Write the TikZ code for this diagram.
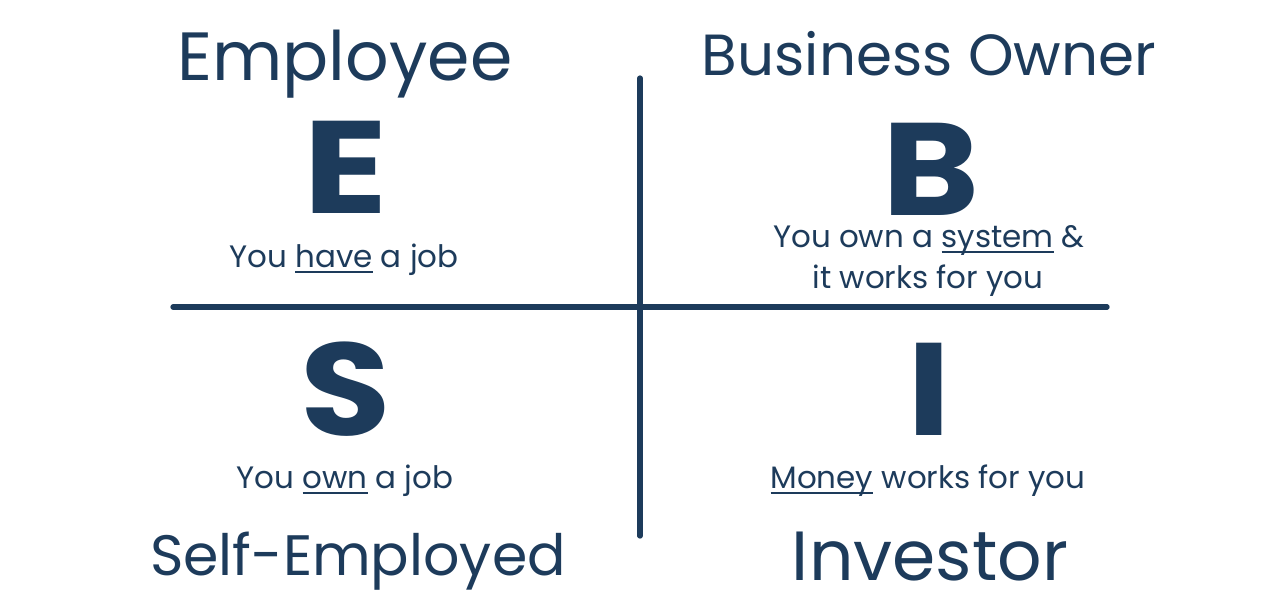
\documentclass[tikz,border=0pt]{standalone}
\usepackage{fontspec}
\setmainfont{Poppins}
\usepackage{tikz}
\definecolor{navy}{HTML}{1D3B5B}
\newcommand{\ul}[1]{\underline{\smash{#1}}}
\newcommand{\fs}[1]{\fontsize{#1}{#1}\selectfont}

\begin{document}
\begin{tikzpicture}[x=0.01cm,y=-0.01cm,
    title/.style={anchor=base,text=navy,inner sep=0pt},
    letter/.style={anchor=base,text=navy,inner sep=0pt,xscale=1.12,font=\fs{37.4}\bfseries},
    note/.style={anchor=base,text=navy,inner sep=0pt,font=\fs{8.8}},
    axis/.style={navy,line width=1.5pt,line cap=round}]
	\useasboundingbox (0,0) rectangle (1280,608);
	
	% Draw the axes
	\coordinate (top) at (640,78);
	\coordinate (bottom) at (640,536);
	\coordinate (left) at (173,307);
	\coordinate (right) at (1107,307);
	\draw[axis] (top) -- (bottom);
	\draw[axis] (left) -- (right);
	
	% Quadrant titles
	\node[title,font=\fs{19.4}] (employee) at (345,80) {Employee};
	\node[title,font=\fs{16.5}] (owner) at (929,75) {Business Owner};
	\node[title,font=\fs{16.2}] (selfemp) at (358,575) {Self-Employed};
	\node[title,font=\fs{19.8}] (investor) at (930,580) {Investor};
	
	% Big letters
	\node[letter,xscale=1.06] (E) at (346,213) {E};
	\node[letter] (B) at (931,215) {B};
	\node[letter] (S) at (346,435) {S};
	\node[letter] (I) at (929,435) {I};
	
	% Notes
	\node[note] (enote) at (344,267) {You \ul{have} a job};
	\node[note] (bnote) at (929,247) {You own a \ul{system} \&};
	\node[note] (bnotetwo) at (928,288) {it works for you};
	\node[note] (snote) at (345,488) {You \ul{own} a job};
	\node[note] (inote) at (928,488) {\ul{Money} works for you};
\end{tikzpicture}
\end{document}
